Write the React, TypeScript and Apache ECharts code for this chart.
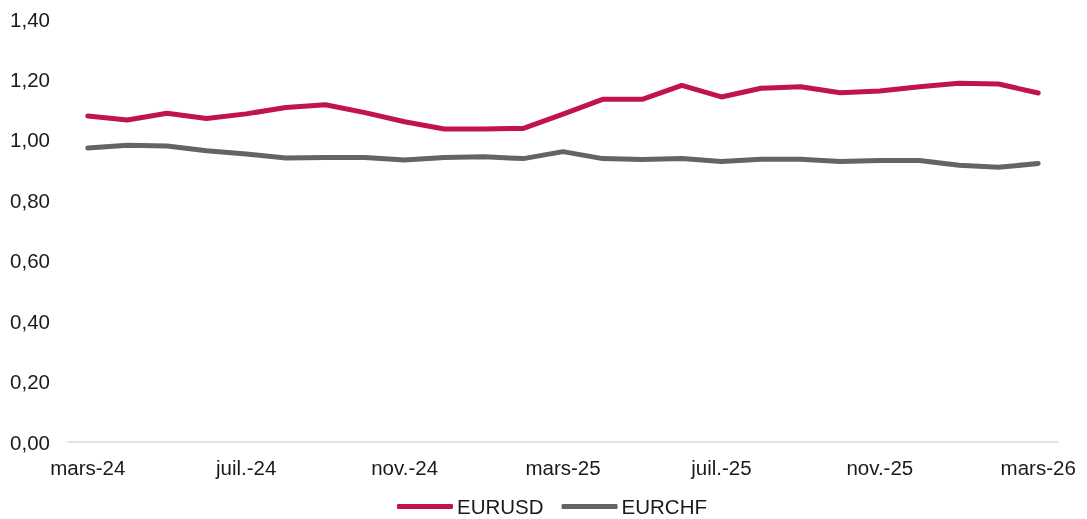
import React, { useEffect, useRef } from "react";
import * as echarts from "echarts";

const categories = [
  "mars-24", "avr.-24", "mai-24", "juin-24", "juil.-24", "août-24", "sept.-24", "oct.-24",
  "nov.-24", "déc.-24", "janv.-25", "févr.-25", "mars-25", "avr.-25", "mai-25", "juin-25",
  "juil.-25", "août-25", "sept.-25", "oct.-25", "nov.-25", "déc.-25", "janv.-26", "févr.-26", "mars-26",
];

const eurusd = [
  1.079, 1.066, 1.088, 1.071, 1.086, 1.107, 1.116, 1.090, 1.060, 1.036, 1.036, 1.038, 1.085,
  1.134, 1.134, 1.180, 1.142, 1.171, 1.176, 1.156, 1.162, 1.176, 1.187, 1.185, 1.155,
];

const eurchf = [
  0.973, 0.982, 0.980, 0.964, 0.953, 0.940, 0.942, 0.942, 0.933, 0.942, 0.944, 0.938, 0.961,
  0.938, 0.935, 0.938, 0.928, 0.936, 0.936, 0.928, 0.932, 0.932, 0.916, 0.909, 0.922,
];

const seriesNames = ["EURUSD", "EURCHF"];
const colors = ["#C0144A", "#646464"];

export default function App() {
  const ref = useRef<HTMLDivElement>(null);
  useEffect(() => {
    if (!ref.current) return;
    const chart = echarts.init(ref.current, null, { renderer: "svg" });
    const font = "'Liberation Sans', Arial, sans-serif";
    const fs = 20.5;
    chart.setOption({
      animation: false,
      textStyle: { fontFamily: font },
      grid: { left: 68, right: 29, top: 19, bottom: 77, containLabel: false },
      legend: {
        top: 496,
        left: 397,
        padding: 0,
        itemWidth: 56,
        itemHeight: 5,
        itemGap: 18,
        icon: "roundRect",
        textStyle: { fontSize: fs, color: "#1a1a1a", fontFamily: font, padding: [0, 0, 0, -1] },
        data: seriesNames,
      },
      xAxis: {
        type: "category",
        data: categories,
        boundaryGap: true,
        axisLine: { show: true, lineStyle: { color: "#d9d9d9", width: 1.5 } },
        axisTick: { show: false },
        axisLabel: {
          interval: 3,
          fontSize: fs,
          color: "#1a1a1a",
          margin: 15,
          fontFamily: font,
        },
      },
      yAxis: {
        type: "value",
        min: 0,
        max: 1.4,
        interval: 0.2,
        splitLine: { show: false },
        axisLine: { show: false },
        axisTick: { show: false },
        axisLabel: {
          fontSize: fs,
          color: "#1a1a1a",
          margin: 18,
          fontFamily: font,
          formatter: (v: number) => v.toFixed(2).replace(".", ","),
        },
      },
      series: [
        {
          name: seriesNames[0],
          type: "line",
          data: eurusd,
          symbol: "none",
          lineStyle: { width: 5, color: colors[0], cap: "round", join: "round" },
          itemStyle: { color: colors[0] },
        },
        {
          name: seriesNames[1],
          type: "line",
          data: eurchf,
          symbol: "none",
          lineStyle: { width: 5, color: colors[1], cap: "round", join: "round" },
          itemStyle: { color: colors[1] },
        },
      ],
    });
    return () => chart.dispose();
  }, []);
  return (
    <div
      ref={ref}
      style={{ position: "fixed", left: 0, top: 0, width: 1087, height: 519 }}
    />
  );
}
